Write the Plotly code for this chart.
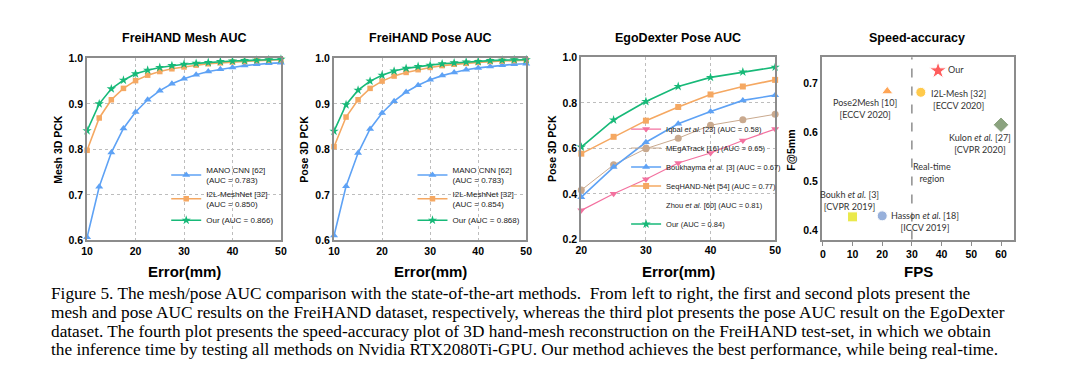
import plotly.graph_objects as go

W, H = 1091, 386

# ---------------- data ----------------
err_frei = [10, 12.5, 15, 17.5, 20, 22.5, 25, 27.5, 30, 32.5, 35, 37.5, 40, 42.5, 45, 47.5, 50]

mesh_mano = [0.607, 0.718, 0.793, 0.846, 0.882, 0.909, 0.929, 0.944, 0.955, 0.964, 0.971, 0.976, 0.980, 0.984, 0.987, 0.989, 0.990]
mesh_i2l = [0.798, 0.869, 0.909, 0.934, 0.951, 0.963, 0.971, 0.977, 0.981, 0.985, 0.988, 0.990, 0.992, 0.993, 0.995, 0.996, 0.997]
mesh_our = [0.841, 0.900, 0.933, 0.952, 0.966, 0.974, 0.980, 0.984, 0.987, 0.989, 0.991, 0.993, 0.994, 0.995, 0.996, 0.997, 0.998]

pose_mano = [0.611, 0.719, 0.792, 0.845, 0.880, 0.906, 0.926, 0.941, 0.953, 0.962, 0.969, 0.975, 0.979, 0.982, 0.985, 0.987, 0.988]
pose_i2l = [0.806, 0.871, 0.909, 0.934, 0.950, 0.961, 0.969, 0.975, 0.980, 0.984, 0.987, 0.989, 0.991, 0.993, 0.994, 0.995, 0.996]
pose_our = [0.840, 0.898, 0.930, 0.950, 0.963, 0.972, 0.978, 0.982, 0.985, 0.988, 0.990, 0.992, 0.993, 0.995, 0.996, 0.997, 0.997]

err_ego = [20, 25, 30, 35, 40, 45, 50]
ego_iqbal = [0.328, 0.401, 0.465, 0.536, 0.580, 0.635, 0.685]
ego_megatrack = [0.417, 0.528, 0.599, 0.645, 0.702, 0.726, 0.750]
ego_boukhayma = [0.386, 0.518, 0.627, 0.708, 0.762, 0.811, 0.834]
ego_seqhand = [0.577, 0.651, 0.722, 0.782, 0.837, 0.872, 0.901]
ego_our = [0.606, 0.725, 0.806, 0.872, 0.912, 0.936, 0.957]

speed_methods = ["Our", "Pose2Mesh", "I2L-Mesh", "Kulon", "Boukh", "Hasson"]
speed_fps = [38.8, 21.7, 33.0, 60.0, 10.0, 20.0]
speed_f5 = [0.725, 0.683, 0.681, 0.615, 0.428, 0.430]
speed_labels = ["Our", "Pose2Mesh [10]<br>[ECCV 2020]", "I2L-Mesh [32]<br>[ECCV 2020]",
                "Kulon <i>et al.</i> [27]<br>[CVPR 2020]", "Boukh <i>et al.</i> [3]<br>[CVPR 2019]",
                "Hasson <i>et al.</i> [18]<br>[ICCV 2019]"]
label_fps = [41.6, 14.1, 45.6, 52.8, 9.1, 34.3]
label_f5 = [0.727, 0.648, 0.667, 0.578, 0.462, 0.419]
REALTIME_FPS = 30

caption_lines = [
    "Figure 5. The mesh/pose AUC comparison with the state-of-the-art methods.  From left to right, the first and second plots present the",
    "mesh and pose AUC results on the FreiHAND dataset, respectively, whereas the third plot presents the pose AUC result on the EgoDexter",
    "dataset. The fourth plot presents the speed-accuracy plot of 3D hand-mesh reconstruction on the FreiHAND test-set, in which we obtain",
    "the inference time by testing all methods on Nvidia RTX2080Ti-GPU. Our method achieves the best performance, while being real-time.",
]

# ---------------- styles ----------------
BLUE = "#5ea2f5"
ORANGE = "#f5a862"
GREEN = "#17b978"
PINK = "#f3719f"
TAN = "#c9a98e"
SANS = "Liberation Sans, Arial, sans-serif"
CAL = "Lato, Open Sans, sans-serif"


def px_x(a, b):
    return [a / W, b / W]


def px_y(top, bottom):
    return [1 - bottom / H, 1 - top / H]


fig = go.Figure()


def curve(x, y, name, color, symbol, xa, ya, legend, size=6, width=1.6):
    fig.add_trace(go.Scatter(
        x=x, y=y, name=name, mode="lines+markers", xaxis=xa, yaxis=ya, legend=legend,
        line=dict(color=color, width=width), marker=dict(color=color, symbol=symbol, size=size),
        cliponaxis=False))


# Plot 1
curve(err_frei, mesh_mano, "MANO CNN [62]<br>(AUC = 0.783)", BLUE, "triangle-up", "x", "y", "legend", 7)
curve(err_frei, mesh_i2l, "I2L-MeshNet [32]<br>(AUC = 0.850)", ORANGE, "square", "x", "y", "legend", 5.5)
curve(err_frei, mesh_our, "Our (AUC = 0.866)", GREEN, "star", "x", "y", "legend", 7)
# Plot 2
curve(err_frei, pose_mano, "MANO CNN [62]<br>(AUC = 0.783)", BLUE, "triangle-up", "x2", "y2", "legend2", 7)
curve(err_frei, pose_i2l, "I2L-MeshNet [32]<br>(AUC = 0.854)", ORANGE, "square", "x2", "y2", "legend2", 5.5)
curve(err_frei, pose_our, "Our (AUC = 0.868)", GREEN, "star", "x2", "y2", "legend2", 7)
# Plot 3
curve(err_ego, ego_iqbal, "Iqbal <i>et al.</i> [23] (AUC = 0.58)", PINK, "triangle-down", "x3", "y3", "legend3", 7, 1.2)
curve(err_ego, ego_megatrack, "MEgATrack [16] (AUC = 0.65)", TAN, "circle", "x3", "y3", "legend3", 7, 1.0)
curve(err_ego, ego_boukhayma, "Boukhayma <i>et al.</i> [3] (AUC = 0.67)", BLUE, "triangle-up", "x3", "y3", "legend3", 7)
curve(err_ego, ego_seqhand, "SeqHAND-Net [54] (AUC = 0.77)", ORANGE, "square", "x3", "y3", "legend3", 6)
fig.add_trace(go.Scatter(x=[None], y=[None], name="Zhou <i>et al.</i> [60] (AUC = 0.81)", mode="lines",
                         line=dict(color="rgba(0,0,0,0)"), xaxis="x3", yaxis="y3", legend="legend3"))
curve(err_ego, ego_our, "Our (AUC = 0.84)", GREEN, "star", "x3", "y3", "legend3", 7)

# Plot 4
speed_colors = ["#ff1a1a", "#ff7f0e", "#ffb400", "#5b7d4a", "#e2e000", "#6c8fcc"]
speed_symbols = ["star", "triangle-up", "circle", "diamond", "square", "circle"]
speed_sizes = [13, 10, 10, 12, 10, 10]
fig.add_trace(go.Scatter(x=speed_fps, y=speed_f5, mode="markers", xaxis="x4", yaxis="y4", showlegend=False,
                         marker=dict(color=speed_colors, symbol=speed_symbols, size=speed_sizes),
                         cliponaxis=False))

for i, (lab, lx, ly) in enumerate(zip(speed_labels, label_fps, label_f5)):
    fig.add_annotation(x=lx, y=ly, xref="x4", yref="y4", text=lab, showarrow=False,
                       xanchor="left" if i == 0 else "center", yanchor="middle",
                       font=dict(family=CAL, size=9, color="#333"))
fig.add_annotation(x=36.8, y=0.518, xref="x4", yref="y4", text="Real-time<br>region", showarrow=False,
                   font=dict(family=CAL, size=9, color="#333"))
fig.add_shape(type="line", xref="x4", yref="y4 domain", x0=REALTIME_FPS, x1=REALTIME_FPS, y0=0, y1=1,
              line=dict(color="#555", width=1, dash="dash"))

# ---------------- axes ----------------
tickfont = dict(family=SANS, size=10.5, color="black", weight="bold")


def axis(domain, rng, tickvals, grid=True, anchor=None, ticks=""):
    d = dict(domain=domain, range=rng, tickvals=tickvals, showline=True, linecolor="#8c8c8c", linewidth=2,
             mirror=True, showgrid=grid, gridcolor="#bdbdbd", griddash="dot", gridwidth=1, zeroline=False,
             tickfont=tickfont, ticks=ticks, ticklen=4, tickcolor="#8c8c8c")
    if anchor:
        d["anchor"] = anchor
    return d


frei_x = [10, 20, 30, 40, 50]
frei_y = [0.6, 0.7, 0.8, 0.9, 1.0]
ego_x = [20, 30, 40, 50]
ego_y = [0.2, 0.4, 0.6, 0.8, 1.0]

ydom = px_y(54, 242)
ydom3 = px_y(53, 241)

fig.update_layout(
    xaxis=axis(px_x(82, 278), [10, 50], frei_x, anchor="y"),
    yaxis=axis(ydom, [0.6, 1.0], frei_y, anchor="x"),
    xaxis2=axis(px_x(331.7, 526), [10, 50], frei_x, anchor="y2"),
    yaxis2=axis(ydom, [0.6, 1.0], frei_y, anchor="x2"),
    xaxis3=axis(px_x(581.7, 777.7), [20, 50], ego_x, anchor="y3"),
    yaxis3=axis(ydom3, [0.2, 1.0], ego_y, anchor="x3"),
    xaxis4=axis(px_x(825, 1019), [-0.3, 64.3], [0, 10, 20, 30, 40, 50, 60], grid=False,
                anchor="y4", ticks="outside"),
    yaxis4=axis(ydom3, [0.382, 0.752], [0.4, 0.5, 0.6, 0.7], grid=False, anchor="x4"),
)
for ax in ["yaxis", "yaxis2", "yaxis3", "yaxis4"]:
    fig.layout[ax].tickformat = ".1f"

# axis titles (as paper annotations for exact placement)
x_titles = ["Error(mm)", "Error(mm)", "Error(mm)", "FPS"]
x_title_cx = [180, 428.9, 679.7, 923]
for t, c in zip(x_titles, x_title_cx):
    fig.add_annotation(x=c / W, y=1 - 274 / H, xref="paper", yref="paper", text=t, showarrow=False,
                       xanchor="center", yanchor="middle",
                       font=dict(family=SANS, size=15, color="black", weight="bold"))
y_titles = ["Mesh 3D PCK", "Pose 3D PCK", "Pose 3D PCK", "F@5mm"]
y_title_cx = [53, 301.7, 552.7, 794]
y_title_cy = [148, 148, 147, 149]
for t, c, cy in zip(y_titles, y_title_cx, y_title_cy):
    fig.add_annotation(x=c / W, y=1 - cy / H, xref="paper", yref="paper", text=t, showarrow=False,
                       xanchor="center", yanchor="middle", textangle=-90,
                       font=dict(family=SANS, size=10.5, color="black", weight="bold"))

leg_common = dict(bgcolor="rgba(0,0,0,0)", borderwidth=0, tracegroupgap=0, itemwidth=30,
                  font=dict(family=SANS, size=8, color="#222"))
fig.update_layout(
    legend=dict(x=162 / W, y=1 - 157 / H, xanchor="left", yanchor="top", **leg_common),
    legend2=dict(x=411 / W, y=1 - 157 / H, xanchor="left", yanchor="top", **leg_common),
    legend3=dict(x=627 / W, y=1 - 240 / H, xanchor="left", yanchor="bottom",
                 **{**leg_common, "font": dict(family=SANS, size=7.5, color="#222")}),
)

# subplot titles
titles = ["FreiHAND Mesh AUC", "FreiHAND Pose AUC", "EgoDexter Pose AUC", "Speed-accuracy"]
centers = [180, 428.9, 679.7, 921]
for t, c in zip(titles, centers):
    fig.add_annotation(x=c / W, y=1 - 33 / H, xref="paper", yref="paper", text=t, showarrow=False,
                       xanchor="center", yanchor="middle",
                       font=dict(family=SANS, size=12.5, color="black", weight="bold"))

# caption
cap_y = [297, 316.3, 335.6, 354.9]
for line, cy in zip(caption_lines, cap_y):
    fig.add_annotation(x=43 / W, y=1 - cy / H, xref="paper", yref="paper", text=line, showarrow=False,
                       xanchor="left", yanchor="middle",
                       font=dict(family="Liberation Serif, Times New Roman, serif", size=17.3, color="black"))

fig.update_layout(width=W, height=H, margin=dict(l=0, r=0, t=0, b=0),
                  paper_bgcolor="white", plot_bgcolor="white")

fig.write_html("out.html", config={"displayModeBar": False},
               post_script="document.body.style.margin='0px';")
